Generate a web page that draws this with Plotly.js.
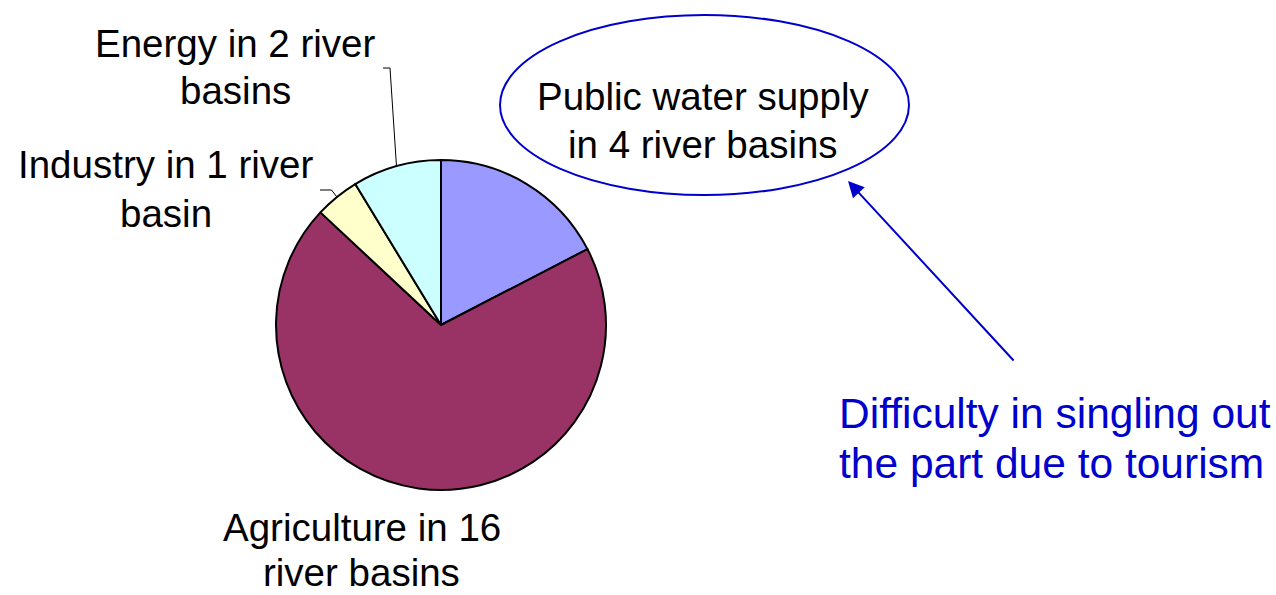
<!DOCTYPE html>
<html>
<head>
<meta charset="utf-8">
<script src="https://cdn.plot.ly/plotly-3.0.1.min.js"></script>
<style>
  html, body { margin: 0; padding: 0; background: #ffffff; }
  #chart { width: 1276px; height: 595px; }
</style>
</head>
<body>
<div id="chart"></div>
<script>
// ---- Data ----
const categories = ['Public water supply', 'Agriculture', 'Industry', 'Energy'];
const basinCounts = [4, 16, 1, 2];
const sliceColors = ['#9999FF', '#993366', '#FFFFCC', '#CCFFFF'];
const labelLines = [
  ['Public water supply', 'in 4 river basins'],
  ['Agriculture in 16', 'river basins'],
  ['Industry in 1 river', 'basin'],
  ['Energy in 2 river', 'basins']
];
const noteLines = ['Difficulty in singling out', 'the part due to tourism'];

// ---- Layout constants (pixels) ----
const W = 1276, H = 595;
const CX = 441, CY = 325, R = 165;
const px = x => x / W;
const py = y => 1 - y / H;
const FONT = 'Liberation Sans, Arial, sans-serif';
const FS = 38.5, FS_NOTE = 42.5;
const BLUE = '#0000CC';

// label line placement: [centerX, baseline1, baseline2]
const labelPos = [
  [702.5, 110, 158],
  [361.5, 541, 586],
  [165.5, 178, 226.5],
  [235, 57, 104]
];
// leader elbows for labels drawn outside (index -> [elbowX, elbowY, endX, endY])
const leaders = {
  2: [331.5, 190, 320, 190],
  3: [390, 68, 383, 68]
};

const total = basinCounts.reduce((a, b) => a + b, 0);
function midEdge(i) {
  let cum = 0;
  for (let k = 0; k < i; k++) cum += basinCounts[k];
  const ang = (cum + basinCounts[i] / 2) / total * 2 * Math.PI; // clockwise from 12 o'clock
  return [CX + R * Math.sin(ang), CY - R * Math.cos(ang)];
}

const annotations = [];
labelLines.forEach((lines, i) => {
  const [cx, b1, b2] = labelPos[i];
  [b1, b2].forEach((b, j) => {
    annotations.push({
      xref: 'paper', yref: 'paper',
      x: px(cx), y: py(b - 0.3465 * FS),
      xanchor: 'center', yanchor: 'middle',
      text: lines[j], showarrow: false,
      font: { family: FONT, size: FS, color: '#000000' }
    });
  });
});
[428, 478].forEach((b, j) => {
  annotations.push({
    xref: 'paper', yref: 'paper',
    x: px(837), y: py(b - 0.3465 * FS_NOTE),
    xanchor: 'left', yanchor: 'middle',
    text: noteLines[j], showarrow: false,
    font: { family: FONT, size: FS_NOTE, color: BLUE }
  });
});
// arrow from note up to the ellipse
annotations.push({
  xref: 'paper', yref: 'paper',
  x: px(848), y: py(181),
  ax: 1015 - 848, ay: 362 - 181,
  text: '', showarrow: true,
  arrowhead: 2, arrowsize: 1.6, arrowwidth: 2, arrowcolor: BLUE,
  standoff: 0, startstandoff: 0
});

const shapes = [
  {
    type: 'circle', xref: 'paper', yref: 'paper',
    x0: px(500), x1: px(909), y0: py(195), y1: py(15),
    line: { color: BLUE, width: 2 }, fillcolor: 'rgba(0,0,0,0)'
  }
];
Object.keys(leaders).forEach(k => {
  const i = +k;
  const [ex, ey] = midEdge(i);
  const [mx, my, tx, ty] = leaders[k];
  shapes.push({
    type: 'path', xref: 'paper', yref: 'paper',
    path: `M${px(ex)},${py(ey)} L${px(mx)},${py(my)} L${px(tx)},${py(ty)}`,
    line: { color: '#000000', width: 1 }
  });
});

const trace = {
  type: 'pie',
  labels: categories,
  values: basinCounts,
  sort: false,
  direction: 'clockwise',
  rotation: 0,
  textinfo: 'none',
  hoverinfo: 'label+value',
  showlegend: false,
  marker: { colors: sliceColors, line: { color: '#000000', width: 2 } },
  domain: { x: [px(CX - R), px(CX + R)], y: [py(CY + R), py(CY - R)] }
};

const layout = {
  width: W, height: H,
  margin: { l: 0, r: 0, t: 0, b: 0, pad: 0 },
  paper_bgcolor: '#ffffff',
  plot_bgcolor: '#ffffff',
  showlegend: false,
  annotations: annotations,
  shapes: shapes,
  font: { family: FONT }
};

Plotly.newPlot('chart', [trace], layout, { displayModeBar: false, staticPlot: true });
</script>
</body>
</html>
